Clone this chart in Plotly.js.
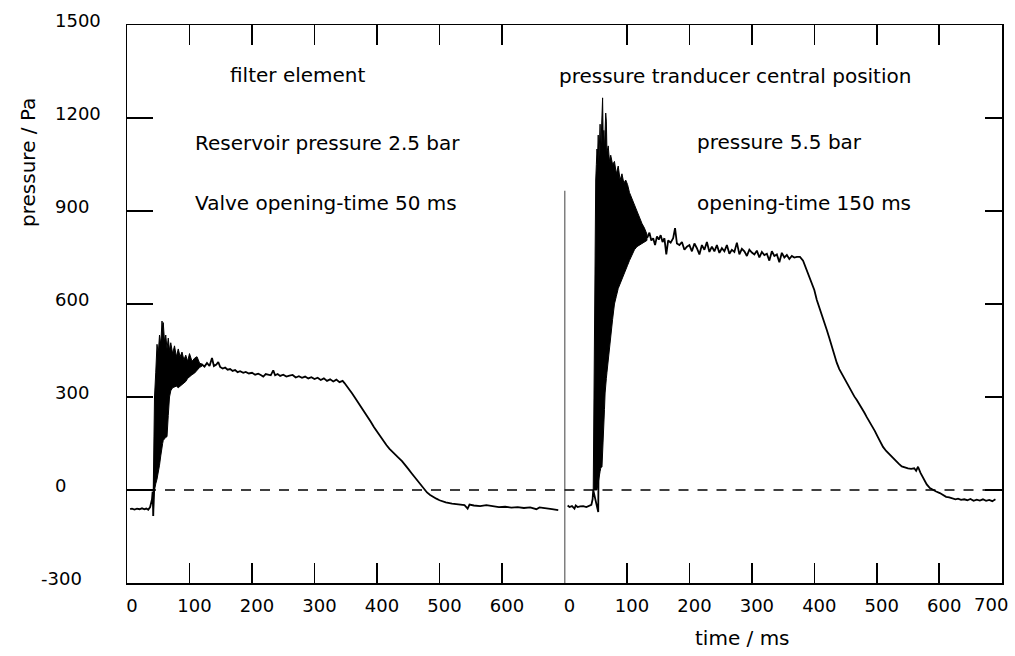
<!DOCTYPE html>
<html>
<head>
<meta charset="utf-8">
<script src="https://cdn.plot.ly/plotly-3.0.1.min.js"></script>
<style>html,body{margin:0;padding:0;background:#fff;}</style>
</head>
<body>
<div id="chart" style="width:1015px;height:656px;"></div>
<script>
// ---- Left panel: filter element, 2.5 bar, 50 ms ----
const leftTime = [5,8,12,16,20,24,28,31,34,37,40,41,42,43,50,60,80,100,118,
  120,124,128,132,136,139,143,146,149,153,157,161,165,169,173,177,181,186,190,195,200,205,210,214,218,222,226,230,234,237,241,245,250,255,260,265,270,275,280,285,290,295,300,305,310,315,320,325,330,335,340,345,348,352,356,360,364,368,372,376,380,385,390,395,400,405,410,415,420,425,430,435,440,445,450,455,460,465,470,475,480,485,490,495,500,505,510,520,530,540,545,548,555,565,575,585,595,605,615,625,635,645,655,660,670,680,690];
const leftPressure = [-62,-60,-63,-60,-62,-59,-62,-60,-64,-55,-30,-5,-84,0,250,350,380,390,405,
  405,398,410,400,426,400,405,413,397,392,395,388,390,384,387,380,383,378,381,376,378,372,375,371,366,374,372,370,386,370,374,368,372,366,369,371,363,367,362,366,360,364,358,362,355,360,352,357,350,356,348,352,345,335,325,312,300,288,275,262,252,238,220,203,188,172,158,145,133,122,112,103,93,82,68,55,42,28,16,3,-8,-16,-23,-28,-33,-37,-40,-44,-46,-49,-60,-47,-50,-52,-49,-53,-55,-54,-57,-55,-58,-56,-62,-56,-60,-62,-65];

const leftMassTime  = [42,43,44,46,48,50,52,54,56,57,58,60,62,64,66,68,70,73,76,79,82,85,88,91,94,97,100,104,108,112,116,120];
const leftMassUpper = [0,120,300,380,470,440,500,470,545,520,540,480,500,455,490,450,475,440,465,430,455,430,445,420,435,415,440,415,425,430,410,405];
const leftMassLower = [-84,-30,0,20,35,50,80,110,140,150,160,165,170,172,240,300,320,330,332,335,330,335,340,345,350,360,365,372,377,385,395,400];

// ---- Right panel: central position, 5.5 bar, 150 ms ----
const rightTime = [5,8,12,16,18,21,25,30,35,40,43,45,46,54,55,60,70,90,110,132,
  133,136,139,142,145,148,151,154,157,160,163,166,170,174,177,180,184,188,192,196,200,204,208,212,216,220,224,228,232,236,240,244,248,252,256,260,264,268,272,276,280,284,288,292,296,300,304,308,312,316,320,324,328,332,336,340,344,348,352,356,360,364,368,372,377,
  382,388,392,396,400,404,408,412,416,420,424,428,432,436,440,444,448,452,456,460,464,468,472,476,480,484,488,492,497,502,506,510,515,520,525,530,535,540,545,550,555,560,563,566,570,575,580,585,590,595,601,606,611,616,621,626,630,635,640,645,650,655,660,665,670,675,680,685,690];
const rightPressure = [-50,-55,-52,-60,-50,-55,-53,-52,-55,-52,-48,-30,0,-71,200,600,800,850,830,815,
  816,830,805,812,790,818,808,822,800,812,760,805,798,812,845,795,790,800,775,785,790,770,795,780,760,790,775,800,768,785,770,790,765,780,770,790,762,775,768,798,760,778,770,755,775,766,760,772,750,768,758,762,740,770,755,760,735,765,750,758,745,755,750,752,752,
  740,710,690,665,645,613,590,565,540,516,490,462,435,410,390,375,358,345,330,318,302,290,278,262,250,235,222,208,190,170,155,139,126,115,105,95,85,76,72,70,68,70,62,75,55,35,18,6,0,-5,-10,-15,-22,-24,-26,-30,-28,-32,-30,-33,-29,-35,-31,-34,-30,-35,-32,-36,-30];

const rightMassTime  = [46,47,48,49,50,51,52,53,54,55,56,57,58,59,60,61,62,63,64,65,66,67,68,70,72,74,77,80,83,86,89,92,95,98,101,104,108,112,116,120,124,128,132];
const rightMassUpper = [0,350,700,900,1000,1050,1100,1080,1145,1060,1120,1180,1090,1140,1210,1265,1120,1160,1100,1150,1216,1190,1090,1110,1060,1080,1050,1060,1020,1045,1000,1020,990,1000,985,960,940,920,895,880,860,845,825];
const rightMassLower = [0,0,0,0,0,0,0,5,15,30,45,60,70,74,74,100,150,200,260,313,340,360,380,420,452,500,550,600,625,650,670,680,695,710,725,740,760,775,785,790,795,800,805];

// reference zero line and partial panel divider
const zeroTime = [0, 700];
const zeroPressure = [0, 0];
const dividerTime = [0, 0];
const dividerPressure = [-300, 965];

// ticks
const yTickVals = [-300, 0, 300, 600, 900, 1200, 1500];
const yTickText = ['-300', '0', '300', '600', '900', '1200', '1500'];
const yInnerTicks = [0, 300, 600, 900, 1200];
const xTicksLeft = [0, 100, 200, 300, 400, 500, 600];
const xTicksRight = [0, 100, 200, 300, 400, 500, 600, 700];
const xTickTextLeft = ['0', '100', '200', '300', '400', '500', '600'];
const xTickTextRight = ['0', '100', '200', '300', '400', '500', '600', ''];
const xLastTick = 700;
const xLastTickText = '700';

function envelope(t, up, lo) {
  return {
    x: t.concat(t.slice().reverse()),
    y: up.concat(lo.slice().reverse())
  };
}
const le = envelope(leftMassTime, leftMassUpper, leftMassLower);
const re = envelope(rightMassTime, rightMassUpper, rightMassLower);

const K = '#000';
const traces = [
  {x: zeroTime, y: zeroPressure, xaxis: 'x', yaxis: 'y', mode: 'lines', line: {color: K, width: 1.5, dash: '10px,9px'}, hoverinfo: 'skip'},
  {x: zeroTime, y: zeroPressure, xaxis: 'x2', yaxis: 'y2', mode: 'lines', line: {color: K, width: 1.5, dash: '10px,9px'}, hoverinfo: 'skip'},
  {x: dividerTime, y: dividerPressure, xaxis: 'x2', yaxis: 'y2', mode: 'lines', line: {color: K, width: 1.5}, hoverinfo: 'skip'},
  {x: le.x, y: le.y, xaxis: 'x', yaxis: 'y', mode: 'lines', fill: 'toself', fillcolor: K, line: {color: K, width: 1}},
  {x: leftTime, y: leftPressure, xaxis: 'x', yaxis: 'y', mode: 'lines', line: {color: K, width: 1.8}},
  {x: re.x, y: re.y, xaxis: 'x2', yaxis: 'y2', mode: 'lines', fill: 'toself', fillcolor: K, line: {color: K, width: 1}},
  {x: rightTime, y: rightPressure, xaxis: 'x2', yaxis: 'y2', mode: 'lines', line: {color: K, width: 1.8}}
];

const tickFont = {family: 'DejaVu Sans, sans-serif', size: 18, color: K};
const txtFont = {family: 'DejaVu Sans, sans-serif', size: 20, color: K};
const baseX = {showgrid: false, zeroline: false, showline: true, linecolor: K, linewidth: 1.5, mirror: 'ticks',
  ticks: 'inside', ticklen: 20, tickcolor: K, tickwidth: 1.5, tickfont: tickFont, ticklabelstandoff: 6, ticklabelshift: 5,
  fixedrange: true};

// y tick labels: left-aligned text column, placed through the y scale
const yLabelAnn = yTickVals.map((v, i) => ({
  text: yTickText[i], xref: 'paper', yref: 'y', x: -0.0846, y: v,
  xanchor: 'left', yanchor: 'middle', yshift: 5,
  xshift: yTickText[i].startsWith('-') ? -14 : 0,
  showarrow: false, font: tickFont
}));
// last bottom label of the right panel, kept inside the page
const lastXAnn = {text: xLastTickText, xref: 'x2', yref: 'paper', x: xLastTick, y: -0.0394,
  xanchor: 'right', yanchor: 'middle', xshift: 8, showarrow: false, font: tickFont};

const layout = {
  width: 1015, height: 656,
  margin: {l: 127, r: 13, t: 25, b: 73},
  paper_bgcolor: '#fff', plot_bgcolor: '#fff',
  showlegend: false,
  xaxis: Object.assign({}, baseX, {domain: [0, 0.5], range: [0, 700], anchor: 'y', tickvals: xTicksLeft, ticktext: xTickTextLeft}),
  xaxis2: Object.assign({}, baseX, {domain: [0.5, 1], range: [0, 700.5], anchor: 'y2', tickvals: xTicksRight, ticktext: xTickTextRight}),
  yaxis: {domain: [0, 1], range: [-300, 1500], anchor: 'x', side: 'left', showgrid: false, zeroline: false, showline: true, linecolor: K, linewidth: 1.5,
    ticks: 'inside', ticklen: 26, tickcolor: K, tickwidth: 1.5, tickvals: yTickVals, showticklabels: false, fixedrange: true},
  yaxis2: {domain: [0, 1], range: [-300, 1500], anchor: 'x2', side: 'right', showgrid: false, zeroline: false, showline: true, linecolor: K, linewidth: 1.5,
    ticks: 'inside', ticklen: 17, tickcolor: K, tickwidth: 1.5, tickvals: yInnerTicks, showticklabels: false, fixedrange: true},
  annotations: yLabelAnn.concat([lastXAnn,
    {text: 'filter element', xref: 'paper', yref: 'paper', x: 0.1154, y: 0.910, xanchor: 'left', yanchor: 'middle', showarrow: false, font: txtFont},
    {text: 'Reservoir pressure 2.5 bar', xref: 'paper', yref: 'paper', x: 0.0754, y: 0.789, xanchor: 'left', yanchor: 'middle', showarrow: false, font: txtFont},
    {text: 'Valve opening-time 50 ms', xref: 'paper', yref: 'paper', x: 0.0754, y: 0.681, xanchor: 'left', yanchor: 'middle', showarrow: false, font: txtFont},
    {text: 'pressure tranducer central position', xref: 'paper', yref: 'paper', x: 0.4914, y: 0.908, xanchor: 'left', yanchor: 'middle', showarrow: false, font: txtFont},
    {text: 'pressure 5.5 bar', xref: 'paper', yref: 'paper', x: 0.6491, y: 0.790, xanchor: 'left', yanchor: 'middle', showarrow: false, font: txtFont},
    {text: 'opening-time 150 ms', xref: 'paper', yref: 'paper', x: 0.6491, y: 0.681, xanchor: 'left', yanchor: 'middle', showarrow: false, font: txtFont},
    {text: 'pressure / Pa', xref: 'paper', yref: 'paper', x: -0.113, y: 0.753, xanchor: 'center', yanchor: 'middle', textangle: -90, showarrow: false, font: txtFont},
    {text: 'time / ms', xref: 'paper', yref: 'paper', x: 0.703, y: -0.0986, xanchor: 'center', yanchor: 'middle', showarrow: false, font: txtFont}
  ])
};

Plotly.newPlot('chart', traces, layout, {displayModeBar: false, staticPlot: true});
</script>
</body>
</html>
